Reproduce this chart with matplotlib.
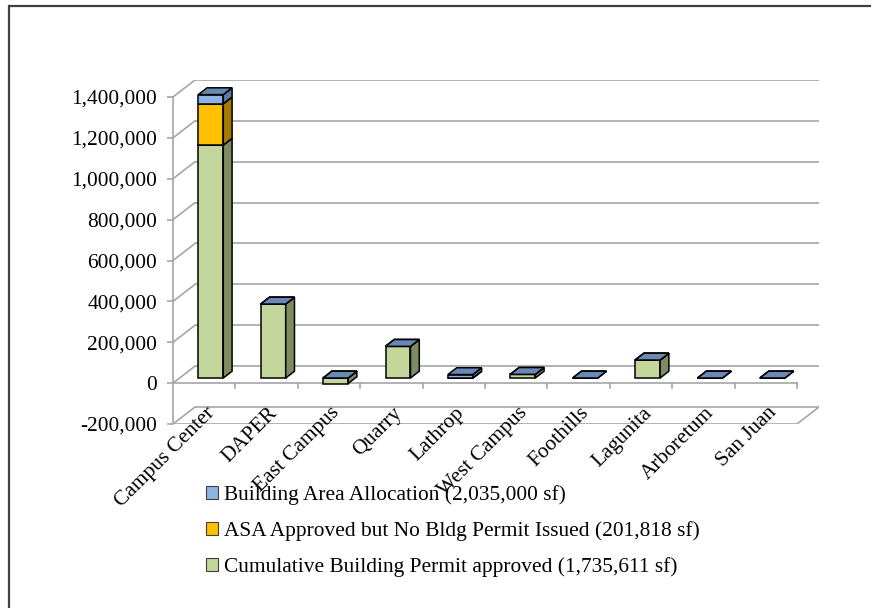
import matplotlib
matplotlib.use("Agg")
import matplotlib.pyplot as plt
from matplotlib.patches import Polygon, Patch
from matplotlib.lines import Line2D
from matplotlib.ticker import FuncFormatter

# ---------------- data ----------------
categories = ["Campus Center", "DAPER", "East Campus", "Quarry", "Lathrop",
              "West Campus", "Foothills", "Lagunita", "Arboretum", "San Juan"]
permit_approved = [1140000, 362000, -27000, 155000, 0, 18000, 0, 88000, 0, 0]
asa_approved = [201818, 0, 0, 0, 0, 0, 0, 0, 0, 0]
area_allocation = [45000, 0, 0, 0, 17000, 0, 0, 0, 0, 0]
series_labels = ["Building Area Allocation (2,035,000 sf)",
                 "ASA Approved but No Bldg Permit Issued (201,818 sf)",
                 "Cumulative Building Permit approved (1,735,611 sf)"]
y_ticks = list(range(-200000, 1400001, 200000))

# ---------------- style ----------------
FONT = ["Liberation Serif", "DejaVu Serif"]
FS = 15.4
GRID = "#A6A6A6"
colors = {
    "green": dict(front="#C3D69B", side="#7E8B61", top="#9CAD78"),
    "orange": dict(front="#FFC000", side="#A67C00", top="#D9A300"),
    "blue": dict(front="#8EB4E3", side="#5B79A3", top="#6888B5"),
}

W, Hfig = 873, 608
fig = plt.figure(figsize=(W / 100, Hfig / 100), dpi=100)

# pseudo-3D oblique projection parameters (in data units)
n = len(categories)
D = 0.3526          # depth offset along x (category units)
H = 83200           # depth offset along y (value units)
ymin, ymax = -200000, 1400000

left_px, right_px = 173, 819
top_px, bottom_px = 80, 424
ax = fig.add_axes([left_px / W, 1 - bottom_px / Hfig,
                   (right_px - left_px) / W, (bottom_px - top_px) / Hfig])
ax.set_xlim(0, n + D)
ax.set_ylim(ymin, ymax + H)
ax.patch.set_alpha(0)
for s in ["top", "right", "bottom"]:
    ax.spines[s].set_visible(False)
ax.spines["left"].set_bounds(ymin, ymax)
ax.spines["left"].set_color(GRID)
ax.spines["left"].set_linewidth(1.2)
ax.set_xticks([])
ax.set_yticks(y_ticks)
ax.yaxis.set_major_formatter(FuncFormatter(lambda v, p: f"{int(v):,}"))
ax.tick_params(axis="y", length=4.5, width=1.2, color=GRID, pad=7,
               labelsize=FS)
for lab in ax.get_yticklabels():
    lab.set_fontfamily(FONT)

# walls / floor gridlines
for v in y_ticks:
    ax.plot([D, n + D], [v + H, v + H], color=GRID, lw=1.2, zorder=1,
            solid_capstyle="butt")
    ax.plot([0, D], [v, v + H], color=GRID, lw=1.2, zorder=1)
# floor front and right edges
ax.plot([0, n, n + D], [ymin, ymin, ymin + H], color=GRID, lw=1.2, zorder=1)
# category axis at zero
ax.plot([0, n], [0, 0], color=GRID, lw=1.2, zorder=1)
tick_len = 24500
for i in range(1, n + 1):
    ax.plot([i, i], [0, -tick_len], color=GRID, lw=1.2, zorder=1)

# bars
bw = 0.4
f0, f1 = 0.3, 0.7


def draw_box(x0, b, t, c, z):
    xa, xb = x0, x0 + bw
    front = [(xa + f0 * D, b + f0 * H), (xb + f0 * D, b + f0 * H),
             (xb + f0 * D, t + f0 * H), (xa + f0 * D, t + f0 * H)]
    side = [(xb + f0 * D, b + f0 * H), (xb + f1 * D, b + f1 * H),
            (xb + f1 * D, t + f1 * H), (xb + f0 * D, t + f0 * H)]
    top = [(xa + f0 * D, t + f0 * H), (xb + f0 * D, t + f0 * H),
           (xb + f1 * D, t + f1 * H), (xa + f1 * D, t + f1 * H)]
    kw = dict(edgecolor="black", linewidth=1.1, joinstyle="miter", zorder=z)
    if t != b:
        ax.add_patch(Polygon(front, closed=True, facecolor=c["front"], **kw))
        ax.add_patch(Polygon(side, closed=True, facecolor=c["side"], **kw))
    ax.add_patch(Polygon(top, closed=True, facecolor=c["top"], **kw))


for i in range(n):
    x0 = i + 0.5 - bw / 2
    pos_base, neg_base = 0.0, 0.0
    z = 3
    for vals, key in [(permit_approved, "green"), (asa_approved, "orange"),
                      (area_allocation, "blue")]:
        v = vals[i]
        if v < 0:
            draw_box(x0, neg_base + v, neg_base, colors[key], z)
            neg_base += v
        else:
            draw_box(x0, pos_base, pos_base + v, colors[key], z)
            pos_base += v
        z += 1

# category labels
for i, name in enumerate(categories):
    ax.text(i + 0.52, -100000, name, rotation=45, rotation_mode="anchor",
            ha="right", va="top", fontsize=FS, family=FONT, zorder=10)

# legend
handles = [Patch(facecolor=colors["blue"]["front"], edgecolor="#404040", lw=0.8),
           Patch(facecolor=colors["orange"]["front"], edgecolor="#404040", lw=0.8),
           Patch(facecolor=colors["green"]["front"], edgecolor="#404040", lw=0.8)]
leg = fig.legend(handles, series_labels, loc="upper left",
                 bbox_to_anchor=(202 / W, 1 - 481 / Hfig),
                 frameon=False, prop={"family": FONT, "size": FS},
                 handlelength=0.55, handleheight=0.55, handletextpad=0.3,
                 labelspacing=0.74, borderpad=0.2, borderaxespad=0)

# chart frame (left and top edges visible)
fig.add_artist(Line2D([9 / W, 9 / W, 870 / W], [0, 1 - 6 / Hfig, 1 - 6 / Hfig],
                      transform=fig.transFigure, color="#404040",
                      linewidth=1.6, solid_joinstyle="miter"))

fig.savefig("out.png", dpi=100)
